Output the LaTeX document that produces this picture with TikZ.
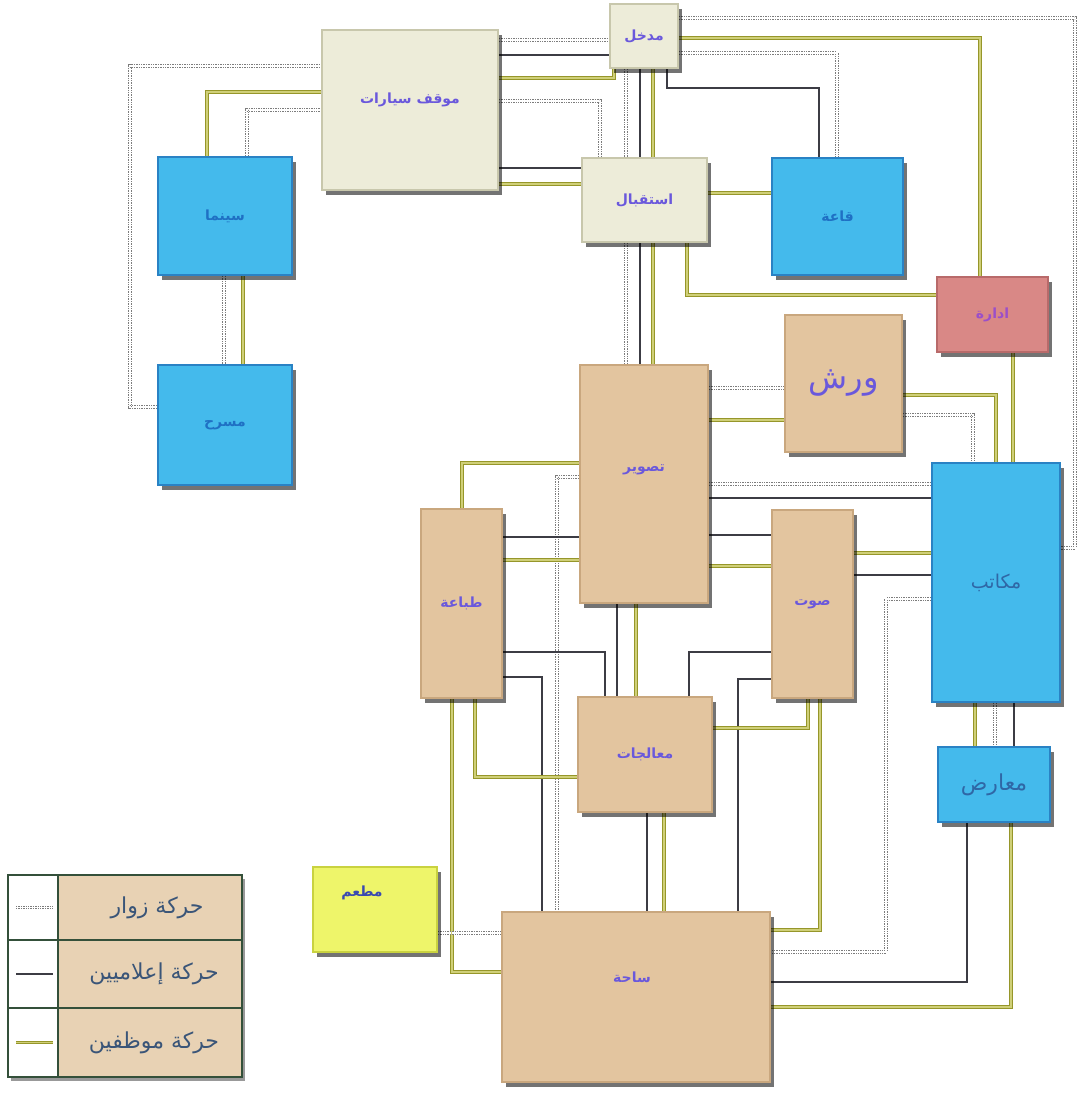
\documentclass[tikz,border=0pt]{standalone}
\usepackage{fontspec}
\usetikzlibrary{backgrounds,shadows}
\newfontfamily\arfont[Script=Arabic]{DejaVu Sans}
\TeXXeTstate=1
\newcommand{\artxt}[1]{{\arfont\beginR #1\endR}}
\definecolor{visgray}{HTML}{7C7C7C}
\definecolor{medink}{HTML}{3C3C44}
\definecolor{staffolive}{HTML}{96962A}
\definecolor{staffpale}{HTML}{CFCF78}
\definecolor{creamfill}{HTML}{EDECD9}
\definecolor{creamedge}{HTML}{C8C7AC}
\definecolor{tanfill}{HTML}{E3C59F}
\definecolor{tanedge}{HTML}{C9A77E}
\definecolor{skyfill}{HTML}{44BAEC}
\definecolor{skyedge}{HTML}{2A82C4}
\definecolor{pinkfill}{HTML}{D98886}
\definecolor{pinkedge}{HTML}{B86A6A}
\definecolor{limefill}{HTML}{EEF56A}
\definecolor{limeedge}{HTML}{C9D240}
\definecolor{legborder}{HTML}{34503A}
\definecolor{legtan}{HTML}{E8D2B4}
\definecolor{legtext}{HTML}{3A5578}
\definecolor{lblpurple}{HTML}{6A58DC}
\definecolor{lblblue}{HTML}{1F70C4}
\definecolor{lblslate}{HTML}{2F67A6}
\definecolor{lblviolet}{HTML}{9B4FC9}
\definecolor{lblnavy}{HTML}{3A4AB0}

\begin{document}
\begin{tikzpicture}[x=1pt,y=-1pt,
   roombox/.style={draw,line width=1.6pt,inner sep=0pt,
     drop shadow={shadow xshift=4pt,shadow yshift=-5pt,opacity=.55,fill=black}},
   creamroom/.style={roombox,fill=creamfill,draw=creamedge},
   tanroom/.style={roombox,fill=tanfill,draw=tanedge},
   skyroom/.style={roombox,fill=skyfill,draw=skyedge},
   pinkroom/.style={roombox,fill=pinkfill,draw=pinkedge},
   limeroom/.style={roombox,fill=limefill,draw=limeedge},
   roomlbl/.style={font=\arfont\bfseries\fontsize{14}{16}\selectfont,text=lblpurple},
   skylbl/.style={roomlbl,text=lblblue},
   bigsky/.style={font=\arfont\fontsize{19}{22}\selectfont,text=lblslate},
   vis/.style={draw=visgray,line width=1pt,double=white,double distance=1.1pt,
               dash pattern=on 1.4pt off 1pt},
   med/.style={draw=medink,line width=1.6pt},
   stf/.style={draw=staffolive,line width=1.1pt,double=staffpale,double distance=1.5pt},
   legframe/.style={draw=legborder,line width=2.5pt,fill=white,
     drop shadow={shadow xshift=3pt,shadow yshift=-4pt,opacity=.4,fill=black}},
   legkey/.style={draw=legborder,line width=2pt,fill=white,minimum width=50,inner sep=0pt},
   legrow/.style={draw=legborder,line width=2pt,fill=legtan,minimum width=184,inner sep=0pt,
     font=\arfont\fontsize{22}{25}\selectfont,text=legtext}]
  \useasboundingbox (0,0) rectangle (1079,1095);

  % rooms
  \node[creamroom,roomlbl,minimum width=68,minimum height=64] (madkhal) at (644,36) {\artxt{مدخل}};
  \node[creamroom,minimum width=176,minimum height=160] (mawqif) at (410,110) {};
  \node[roomlbl] (mawqifL) at (410,100) {\artxt{موقف سيارات}};
  \node[skyroom,skylbl,minimum width=134,minimum height=118] (sinima) at (225,216) {\artxt{سينما}};
  \node[skyroom,skylbl,minimum width=134,minimum height=120] (masrah) at (225,425) {\artxt{مسرح}};
  \node[creamroom,roomlbl,minimum width=125,minimum height=84] (istiqbal) at (644.5,200) {\artxt{استقبال}};
  \node[skyroom,skylbl,minimum width=131,minimum height=117] (qaa) at (837.5,216.5) {\artxt{قاعة}};
  \node[pinkroom,roomlbl,text=lblviolet,minimum width=111,minimum height=75] (idara) at (992.5,314.5) {\artxt{ادارة}};
  \node[tanroom,font=\arfont\fontsize{32}{36}\selectfont,text=lblpurple,
        minimum width=117,minimum height=137] (warsh) at (843.5,383.5) {\artxt{ورش}};
  \node[tanroom,minimum width=128,minimum height=238] (tasweer) at (644,484) {};
  \node[roomlbl] (tasweerL) at (644,470) {\artxt{تصوير}};
  \node[tanroom,roomlbl,minimum width=81,minimum height=189] (tibaa) at (461.5,603.5) {\artxt{طباعة}};
  \node[tanroom,roomlbl,minimum width=81,minimum height=188] (sawt) at (812.5,604) {\artxt{صوت}};
  \node[skyroom,bigsky,minimum width=128,minimum height=239] (makatib) at (996,582.5) {\artxt{مكاتب}};
  \node[tanroom,roomlbl,minimum width=134,minimum height=115] (muaalajat) at (645,754.5) {\artxt{معالجات}};
  \node[skyroom,bigsky,font=\arfont\fontsize{22}{25}\selectfont,
        minimum width=112,minimum height=75] (maarid) at (994,784.5) {\artxt{معارض}};
  \node[limeroom,minimum width=124,minimum height=85] (mataam) at (375,909.5) {};
  \node[roomlbl,text=lblnavy] (mataamL) at (362,893) {\artxt{مطعم}};
  \node[tanroom,minimum width=268,minimum height=170] (saha) at (636,997) {};
  \node[roomlbl] (sahaL) at (632,977) {\artxt{ساحة}};

  % legend
  \node[legframe,minimum width=234,minimum height=202] (legend) at (125,976) {};
  \node[legkey,minimum height=65] (key1) at (33,907.5) {};
  \node[legrow,minimum height=65] (row1) at (150,907.5) {\hspace{14pt}\artxt{حركة زوار}};
  \node[legkey,minimum height=68] (key2) at (33,974) {};
  \node[legrow,minimum height=68] (row2) at (150,974) {\hspace{8pt}\artxt{حركة إعلاميين}};
  \node[legkey,minimum height=69] (key3) at (33,1042.5) {};
  \node[legrow,minimum height=69] (row3) at (150,1042.5) {\hspace{8pt}\artxt{حركة موظفين}};
  \draw[vis] ([xshift=9pt]key1.west) -- ([xshift=-6pt]key1.east);
  \draw[med] ([xshift=9pt]key2.west) -- ([xshift=-6pt]key2.east);
  \draw[stf] ([xshift=9pt]key3.west) -- ([xshift=-6pt]key3.east);

  \begin{scope}[on background layer]
    \fill[white] (0,0) rectangle (1079,1095);
    % parking, cinema, theatre
    \draw[vis] (masrah.west |- 0,407) -| (130,66) -- (mawqif.west |- 0,66);
    \draw[stf] (sinima.north -| 207,0) |- (mawqif.west |- 0,92);
    \draw[vis] (sinima.north -| 247,0) |- (mawqif.west |- 0,110);
    \draw[vis] (sinima.south -| 224,0) -- (masrah.north -| 224,0);
    \draw[stf] (sinima.south -| 243,0) -- (masrah.north -| 243,0);
    \draw[vis] (mawqif.east |- 0,40) -- (madkhal.west |- 0,40);
    \draw[med] (mawqif.east |- 0,55) -- (madkhal.west |- 0,55);
    \draw[stf] (mawqif.east |- 0,78) -| (madkhal.south -| 614,0);
    \draw[vis] (mawqif.east |- 0,101) -| (istiqbal.north -| 600,0);
    \draw[med] (mawqif.east |- 0,168) -- (istiqbal.west |- 0,168);
    \draw[stf] (mawqif.east |- 0,184) -- (istiqbal.west |- 0,184);
    % entrance
    \draw[vis] (madkhal.east |- 0,18) -| (1075,548) -- (makatib.east |- 0,548);
    \draw[stf] (madkhal.east |- 0,38) -| (idara.north -| 980,0);
    \draw[vis] (madkhal.east |- 0,53) -| (qaa.north -| 837,0);
    \draw[med] (madkhal.south -| 667,0) -- (667,88) -| (qaa.north -| 819,0);
    \draw[vis] (madkhal.south -| 626,0) -- (istiqbal.north -| 626,0);
    \draw[med] (madkhal.south -| 640,0) -- (istiqbal.north -| 640,0);
    \draw[stf] (madkhal.south -| 653,0) -- (istiqbal.north -| 653,0);
    % reception
    \draw[vis] (istiqbal.south -| 626,0) -- (tasweer.north -| 626,0);
    \draw[med] (istiqbal.south -| 640,0) -- (tasweer.north -| 640,0);
    \draw[stf] (istiqbal.south -| 653,0) -- (tasweer.north -| 653,0);
    \draw[stf] (istiqbal.east |- 0,193) -- (qaa.west |- 0,193);
    \draw[stf] (istiqbal.south -| 687,0) |- (idara.west |- 0,295);
    % photography, workshops, offices
    \draw[vis] (tasweer.east |- 0,388) -- (warsh.west |- 0,388);
    \draw[stf] (tasweer.east |- 0,420) -- (warsh.west |- 0,420);
    \draw[stf] (warsh.east |- 0,395) -| (makatib.north -| 996,0);
    \draw[vis] (warsh.east |- 0,415) -| (makatib.north -| 973,0);
    \draw[stf] (idara.south -| 1013,0) -- (makatib.north -| 1013,0);
    \draw[vis] (tasweer.east |- 0,484) -- (makatib.west |- 0,484);
    \draw[med] (tasweer.east |- 0,498) -- (makatib.west |- 0,498);
    \draw[med] (tasweer.east |- 0,535) -- (sawt.west |- 0,535);
    \draw[stf] (tasweer.east |- 0,566) -- (sawt.west |- 0,566);
    \draw[stf] (sawt.east |- 0,553) -- (makatib.west |- 0,553);
    \draw[med] (sawt.east |- 0,575) -- (makatib.west |- 0,575);
    \draw[vis] (makatib.west |- 0,599) -| (886,952) -- (saha.east |- 0,952);
    % printing
    \draw[stf] (tasweer.west |- 0,463) -| (tibaa.north -| 462,0);
    \draw[vis] (tasweer.west |- 0,477) -| (saha.north -| 557,0);
    \draw[med] (tibaa.east |- 0,537) -- (tasweer.west |- 0,537);
    \draw[stf] (tibaa.east |- 0,560) -- (tasweer.west |- 0,560);
    \draw[med] (tibaa.east |- 0,652) -| (muaalajat.north -| 605,0);
    \draw[med] (tibaa.east |- 0,677) -| (saha.north -| 542,0);
    \draw[stf] (tibaa.south -| 452,0) |- (saha.west |- 0,972);
    \draw[stf] (tibaa.south -| 475,0) |- (muaalajat.west |- 0,777);
    \draw[med] (tasweer.south -| 617,0) -- (muaalajat.north -| 617,0);
    \draw[stf] (tasweer.south -| 636,0) -- (muaalajat.north -| 636,0);
    % sound, processing
    \draw[med] (sawt.west |- 0,652) -| (muaalajat.north -| 689,0);
    \draw[med] (sawt.west |- 0,679) -| (saha.north -| 738,0);
    \draw[stf] (muaalajat.east |- 0,728) -| (sawt.south -| 808,0);
    \draw[stf] (sawt.south -| 820,0) |- (saha.east |- 0,930);
    \draw[med] (muaalajat.south -| 647,0) -- (saha.north -| 647,0);
    \draw[stf] (muaalajat.south -| 664,0) -- (saha.north -| 664,0);
    % offices, exhibitions, restaurant
    \draw[stf] (makatib.south -| 975,0) -- (maarid.north -| 975,0);
    \draw[vis] (makatib.south -| 995,0) -- (maarid.north -| 995,0);
    \draw[med] (makatib.south -| 1014,0) -- (maarid.north -| 1014,0);
    \draw[med] (maarid.south -| 967,0) |- (saha.east |- 0,982);
    \draw[stf] (maarid.south -| 1011,0) |- (saha.east |- 0,1007);
    \draw[vis] (mataam.east |- 0,933) -- (saha.west |- 0,933);
  \end{scope}
\end{tikzpicture}
\end{document}
